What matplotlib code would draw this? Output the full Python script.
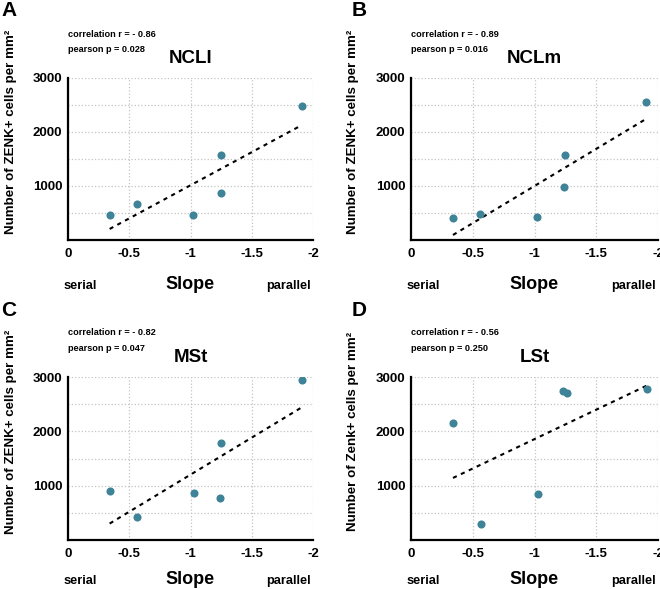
import matplotlib
matplotlib.use('Agg')
import matplotlib.pyplot as plt
import numpy as np

plt.rcParams['font.family'] = ['Liberation Sans', 'DejaVu Sans']
plt.rcParams['font.weight'] = 'bold'

# data (slope of the search function vs. ZENK+ density)
slopes_A = [-0.34, -0.56, -1.02, -1.25, -1.25, -1.91]
zenk_A = [460, 660, 460, 1565, 865, 2475]
slopes_B = [-0.34, -0.56, -1.02, -1.245, -1.24, -1.90]
zenk_B = [400, 490, 420, 1575, 985, 2550]
slopes_C = [-0.34, -0.56, -1.03, -1.25, -1.24, -1.91]
zenk_C = [905, 415, 860, 1780, 765, 2940]
slopes_D = [-0.34, -0.57, -1.03, -1.23, -1.26, -1.91]
zenk_D = [2155, 300, 840, 2735, 2705, 2775]

regions = ['NCLl', 'NCLm', 'MSt', 'LSt']
letters = ['A', 'B', 'C', 'D']
r_vals = [-0.86, -0.89, -0.82, -0.56]
p_vals = [0.028, 0.016, 0.047, 0.250]
ylabels = ['Number of ZENK+ cells per mm²'] * 3 + ['Number of Zenk+ cells per mm²']

xticks = [0, -0.5, -1, -1.5, -2]
xticklabels = ['0', '-0.5', '-1', '-1.5', '-2']
yticks = [1000, 2000, 3000]
yminor = [500, 1500, 2500]

all_x = [slopes_A, slopes_B, slopes_C, slopes_D]
all_y = [zenk_A, zenk_B, zenk_C, zenk_D]

fig = plt.figure(figsize=(6.6, 5.89), dpi=100)
W, H = 660, 589
# axes boxes in pixels: left, right, top, bottom
boxes = [(68, 313, 78, 240), (411, 658, 78, 240),
         (68, 313, 377, 540), (411, 658, 377, 540)]
letter_pos = [(1, 1), (352, 1), (1, 301), (352, 301)]
# baseline of the "Slope" row below each panel (axes fraction)
slope_row = [-0.305, -0.305, -0.27, -0.27]

dot_color = '#3f8399'

for i in range(4):
    l, r, t, b = boxes[i]
    ax = fig.add_axes([l / W, (H - b) / H, (r - l) / W, (b - t) / H])
    x = np.array(all_x[i])
    y = np.array(all_y[i])

    ax.scatter(x, y, s=34, color=dot_color, zorder=3, linewidths=0)
    k, c = np.polyfit(x, y, 1)
    xf = np.array([x.max(), x.min()])
    ax.plot(xf, k * xf + c, color='black', lw=1.5, dashes=(2, 2.2), zorder=2)

    ax.set_xlim(0, -2)
    ax.set_ylim(0, 3000)
    ax.set_xticks(xticks)
    ax.set_xticklabels(xticklabels)
    ax.set_yticks(yticks)
    ax.set_yticks(yminor, minor=True)
    ax.tick_params(which='both', length=0)
    ax.tick_params(axis='x', pad=5.5, labelsize=9.5)
    ax.tick_params(axis='y', pad=4, labelsize=9.5)
    ax.grid(True, which='both', color='#c4c4c4', linestyle=':', lw=0.9)
    ax.set_axisbelow(True)
    for s in ['top', 'right']:
        ax.spines[s].set_visible(False)
    for s in ['left', 'bottom']:
        ax.spines[s].set_linewidth(1.6)

    ax.set_title(regions[i], fontsize=13.5, fontweight='bold', pad=11)
    ax.text(0.0, 1.255, 'correlation r = - %.2f' % abs(r_vals[i]),
            transform=ax.transAxes, fontsize=6.6, ha='left', va='baseline')
    ax.text(0.0, 1.16, 'pearson p = %.3f' % p_vals[i],
            transform=ax.transAxes, fontsize=6.6, ha='left', va='baseline')

    ax.set_ylabel(ylabels[i], fontsize=9.6, fontweight='bold')
    ax.yaxis.set_label_coords(-0.21, 0.665)

    sy = slope_row[i]
    ax.text(0.5, sy, 'Slope', transform=ax.transAxes, fontsize=13,
            ha='center', va='baseline')
    ax.text(-0.02, sy, 'serial', transform=ax.transAxes, fontsize=9.2,
            ha='left', va='baseline')
    ax.text(0.99, sy, 'parallel', transform=ax.transAxes, fontsize=9.2,
            ha='right', va='baseline')

    lx, ly = letter_pos[i]
    fig.text(lx / W, 1 - ly / H, letters[i], fontsize=15, fontweight='bold',
             ha='left', va='top')

fig.savefig('out.png', dpi=100)
